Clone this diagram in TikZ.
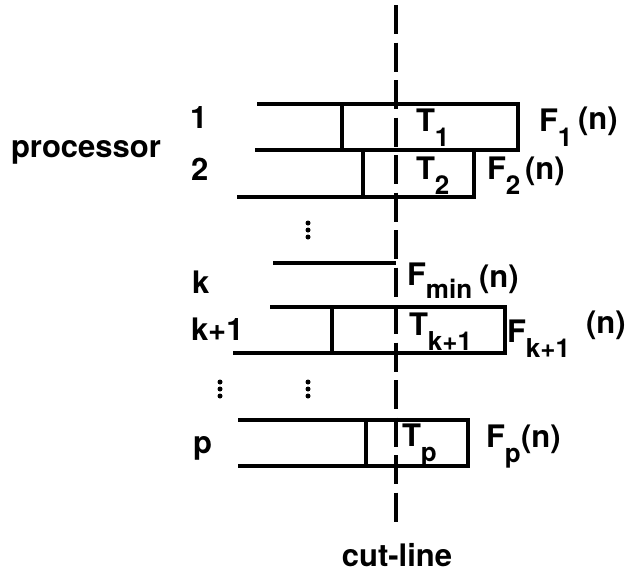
\documentclass[tikz,border=0pt]{standalone}
\usepackage{fontspec}
\setmainfont{TeX Gyre Heros}
\newcommand{\mainsz}{\fontsize{31}{31}\selectfont\bfseries}
\newcommand{\lowsub}[2][15pt]{\raisebox{-#1}{\fontsize{26}{26}\selectfont\bfseries #2}}
\tikzset{
  bar/.style={line width=3.2pt},
  cut/.style={line width=4.2pt, dash pattern=on 29pt off 8.5pt},
  lbl/.style={anchor=base west, inner sep=0pt, outer sep=0pt, font=\mainsz},
  dotmark/.style={fill=black, draw=none}
}
\begin{document}
\begin{tikzpicture}[x=1pt,y=-1pt]
\useasboundingbox (0,0) rectangle (628,576);
% cut line
\coordinate (cuttop) at (396,5);
\coordinate (cutbot) at (396,522);
\draw[cut] (cuttop) -- (cutbot);
\node[anchor=base, inner sep=0pt, font=\mainsz] (cutlabel) at (397,566) {cut-line};
% processor label
\node[lbl] (proc) at (11,157) {processor};
% row labels
\node[lbl] (r1) at (190,128) {1};
\node[lbl] (r2) at (191,180) {2};
\node[lbl] (rk) at (192,293) {k};
\node[lbl] (rk1) at (191,340) {k+1};
\node[lbl] (rp) at (193,453) {p};
% row 1
\draw[bar] (257,104) -- (518,104);
\draw[bar] (255,150) -- (518,150);
\draw[bar] (342,104) rectangle (518,150);
\node[lbl] (t1) at (416,131) {T\lowsub{1}};
\node[lbl] (f1) at (539,131) {F\lowsub{1}};
\node[lbl] (n1) at (578,129) {(n)};
% row 2
\draw[bar] (363,150) rectangle (474,197);
\draw[bar] (237,197) -- (474,197);
\node[lbl] (t2) at (416,179) {T\lowsub{2}};
\node[lbl] (f2) at (487,179) {F\lowsub{2}};
\node[lbl] (n2) at (525,179) {(n)};
% dots
\foreach \yy in {223,230,237} {\fill[dotmark] (308,\yy) circle (2.5pt);}
% row k
\draw[bar] (273,263) -- (396,263);
\node[lbl] (fmin) at (407,285) {F\lowsub[13pt]{min}};
\node[lbl] (nmin) at (479,287) {(n)};
% row k+1
\draw[bar] (270,307) -- (505,307);
\draw[bar] (233,353) -- (505,353);
\draw[bar] (332,307) rectangle (505,353);
\node[lbl] (tk1) at (409,335) {T\lowsub{k+1}};
\node[lbl] (fk1) at (507,342) {F\lowsub{k+1}};
\node[lbl] (nk1) at (586,333) {(n)};
% dots
\foreach \xx in {220,308} {\foreach \yy in {382,389,396} {\fill[dotmark] (\xx,\yy) circle (2.5pt);}}
% row p
\draw[bar] (238,420) -- (468,420);
\draw[bar] (238,466) -- (468,466);
\draw[bar] (366,420) rectangle (468,466);
\node[lbl] (tp) at (402,446) {T\lowsub{p}};
\node[lbl] (fp) at (486,447) {F\lowsub{p}};
\node[lbl] (np) at (521,447) {(n)};
\end{tikzpicture}
\end{document}
